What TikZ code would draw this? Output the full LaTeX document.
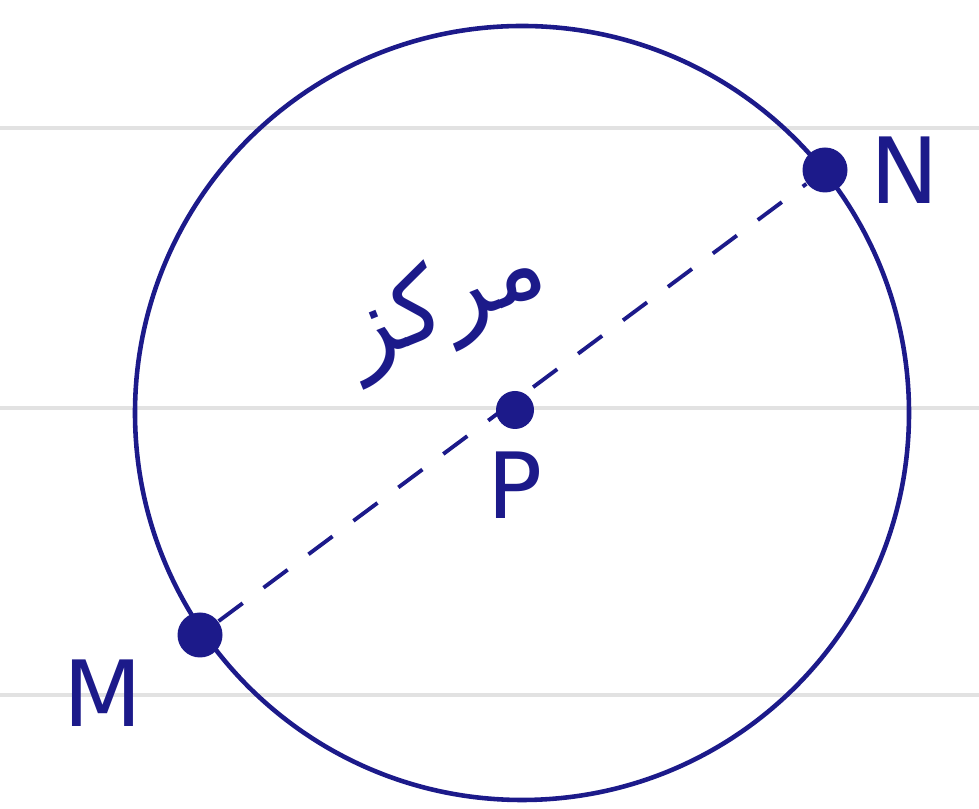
\documentclass[tikz,border=0pt]{standalone}
\usepackage{fontspec}
\setmainfont{DejaVu Sans}
\newfontfamily\arabicfont[Script=Arabic]{DejaVu Sans}
\TeXXeTstate=1
\usetikzlibrary{positioning,calc}
\definecolor{ink}{HTML}{1C1A8A}
\definecolor{rule}{HTML}{E2E2E2}

\begin{document}
\begin{tikzpicture}[pt/.style={circle,fill=ink,inner sep=0pt,minimum size=4.5mm},lbl/.style={text=ink,font=\fontsize{26}{30}\selectfont},dashline/.style={ink,line width=1.1pt,dash pattern=on 3mm off 2.6mm}]
\useasboundingbox (0,0) rectangle (9.79,8.09);
% paper lines
\foreach \y in {6.81,4.01,1.14}{\draw[rule,line width=1.2pt] (0,\y)--(9.79,\y);}
\node[circle,draw=ink,line width=1.3pt,minimum size=7.74cm,inner sep=0pt] (circ) at (5.22,3.96) {};
\node[pt] (N) at (8.25,6.39) {};
\node[pt] (M) at (2.00,1.74) {};
\node[pt,minimum size=3.8mm] (P) at (5.15,3.99) {};
\node[lbl,right=1mm of N] (Nl) {N};
\node[lbl] (Ml) at (1.03,1.16) {M};
\node[lbl,below=1mm of P] (Pl) {P};
\node[text=ink,rotate=22,inner sep=0pt,font=\arabicfont\fontsize{28}{32}\selectfont] (centre) at (4.45,5.05) {\beginR مرکز\endR};
\draw[dashline] (M)--(N);
\end{tikzpicture}
\end{document}
